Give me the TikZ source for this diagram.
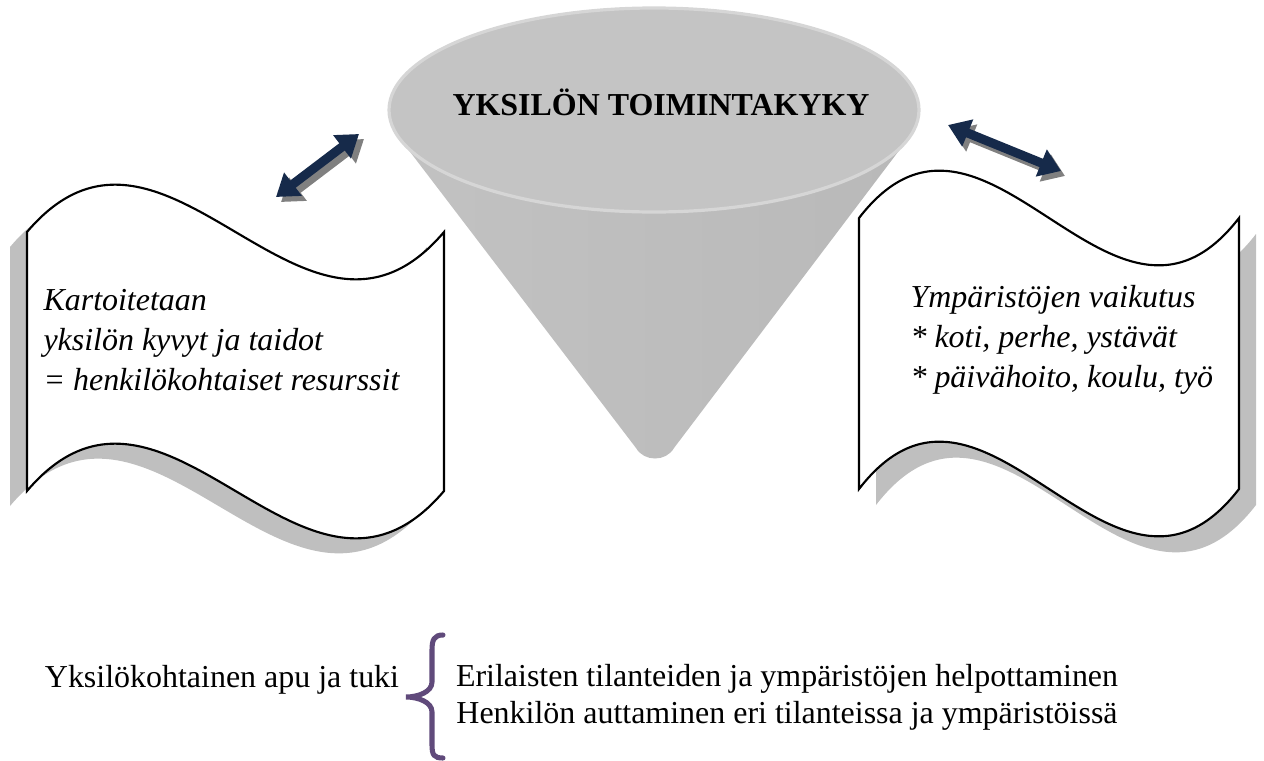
\documentclass[tikz,border=0pt]{standalone}
\usepackage{fontspec}
\setmainfont{Liberation Serif}[ItalicFont={Liberation Serif Italic}, BoldFont={Liberation Serif Bold}]
\usetikzlibrary{arrows.meta, positioning}
\definecolor{arrownavy}{RGB}{22,42,74}
\definecolor{bracepurple}{RGB}{96,74,123}

\begin{document}
\begin{tikzpicture}[
    x=0.0132cm, y=-0.0132cm,
    % wavy banner: top-left x, top-left y, width, height
    wave/.style n args={4}{insert path={
        (#1,#2) .. controls ({#1+#3/3},{#2-164}) and ({#1+2*#3/3},{#2+164}) .. ({#1+#3},#2)
        -- ({#1+#3},{#2+#4})
        .. controls ({#1+2*#3/3},{#2+#4+164}) and ({#1+#3/3},{#2+#4-164}) .. (#1,{#2+#4})
        -- cycle}},
    banner/.style={draw=black, line width=0.8pt, fill=white},
    bannershadow/.style={fill=black!25, draw=none},
    linkarrow/.style={{Triangle[width=10.5pt,length=8pt]}-{Triangle[width=10.5pt,length=8pt]}, line width=3.4pt, draw=arrownavy},
    linkshadow/.style={{Triangle[width=10.5pt,length=8pt]}-{Triangle[width=10.5pt,length=8pt]}, line width=3.4pt, draw=black!50},
    bannertext/.style={font=\itshape\fontsize{12}{15}\selectfont, align=left, anchor=west, inner sep=0pt},
    plaintext/.style={inner sep=0pt, font=\fontsize{12}{14}\selectfont}
]
    \useasboundingbox (0,0) rectangle (1264,760);

    % Left banner
    \fill[bannershadow, shift={(-17,15)}] [wave={27}{232}{417}{259}];
    \draw[banner] [wave={27}{232}{417}{259}];
    \node[bannertext] (skills) at (43,340) {Kartoitetaan\\ yksilön kyvyt ja taidot\\ = henkilökohtaiset resurssit};

    % Right banner
    \fill[bannershadow, shift={(17,16)}] [wave={859}{218}{380}{271}];
    \draw[banner] [wave={859}{218}{380}{271}];
    \node[bannertext] (envs) at (910,340) {Ympäristöjen vaikutus\\ * koti, perhe, ystävät\\ * päivähoito, koulu, työ};

    % Cone
    \shade[left color=gray!48, middle color=gray!72, right color=gray!55]
        (401,140) -- (636,448) .. controls (644,462) and (666,462) .. (674,448) -- (907,140) -- (654,110) -- cycle;
    \fill[gray!46] (654,110) ellipse [x radius=265, y radius=102];
    \draw[gray!32, line width=1.2pt] (654,110) ellipse [x radius=265, y radius=102];
    \node[plaintext, font=\bfseries\fontsize{12}{14}\selectfont] (title) at (661,102) {YKSILÖN TOIMINTAKYKY};

    % Links
    \coordinate (l1) at (276,197);
    \coordinate (l2) at (359,134);
    \coordinate (r1) at (948,125);
    \coordinate (r2) at (1061,171);
    \draw[linkshadow] ([shift={(5,5)}]l1) -- ([shift={(5,5)}]l2);
    \draw[linkarrow] (l1) -- (l2);
    \draw[linkshadow] ([shift={(4,5)}]r1) -- ([shift={(4,5)}]r2);
    \draw[linkarrow] (r1) -- (r2);

    % Support
    \node[plaintext] (support) at (222,680) {Yksilökohtainen apu ja tuki};
    \draw[bracepurple, line width=1.9pt, line cap=round]
        (443,635) .. controls (434,635) and (432,640) .. (432,650) -- (432,682)
        .. controls (432,692) and (418,697) .. (406,697)
        .. controls (418,697) and (432,702) .. (432,712) -- (432,745)
        .. controls (432,755) and (434,758) .. (443,758);
    \node[plaintext, align=center] (ways) at (787,697) {Erilaisten tilanteiden ja ympäristöjen helpottaminen\\ Henkilön auttaminen eri tilanteissa ja ympäristöissä};
\end{tikzpicture}
\end{document}
